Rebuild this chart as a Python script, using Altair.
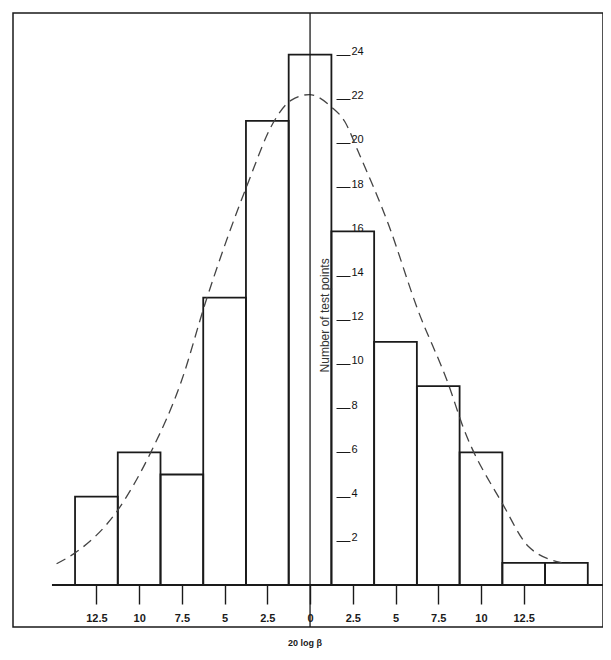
import altair as alt
import pandas as pd

# Histogram bins (bin centres, 20 log beta) and counts
bin_centers = [-12.5, -10, -7.5, -5, -2.5, 0, 2.5, 5, 7.5, 10, 12.5, 15]
counts = [4, 6, 5, 13, 21, 24, 16, 11, 9, 6, 1, 1]
bin_width = 2.5

# Dashed fitted curve
curve_x = [-14.83, -13.79, -11.25, -9.37, -7.51, -6.12, -3.59, -2.18, -1.09, -0.04,
           1.25, 2.03, 2.81, 4.59, 6.30, 8.13, 8.92, 11.28, 12.78, 14.72]
curve_y = [0.96, 1.43, 3.39, 5.92, 9.26, 12.78, 18.27, 20.88, 21.94, 22.19,
           21.63, 20.97, 19.62, 16.31, 12.46, 9.01, 7.22, 3.65, 1.74, 1.01]

x_ticks = [-12.5, -10, -7.5, -5, -2.5, 0, 2.5, 5, 7.5, 10, 12.5]
y_ticks = [2, 4, 6, 8, 10, 12, 14, 16, 18, 20, 22, 24]

x_title = "20 log \u03b2"
y_title = "Number of test points"

W, H = 590, 614
X_DOMAIN = [-17.38, 17.14]
Y_DOMAIN = [-1.90, 25.88]
FONT = "Liberation Sans"
INK = "#1a1a1a"

bars = pd.DataFrame({
    "lo": [c - bin_width / 2 for c in bin_centers],
    "hi": [c + bin_width / 2 for c in bin_centers],
    "n": counts,
})
curve = pd.DataFrame({"x": curve_x, "y": curve_y})

xs = alt.Scale(domain=X_DOMAIN, nice=False, zero=False)
ys = alt.Scale(domain=Y_DOMAIN, nice=False, zero=False)

x_axis = alt.Axis(values=x_ticks, domain=False, grid=False, tickSize=19, tickWidth=1.4,
                  tickColor=INK, labelExpr="'' + abs(datum.value)", labelPadding=8,
                  labelFont=FONT, labelFontSize=11, labelFontWeight="bold",
                  labelColor=INK, offset=-42, title=None, orient="bottom")
y_axis = alt.Axis(values=y_ticks, domain=False, grid=False, orient="right", offset=-267,
                  tickSize=14, tickWidth=1, tickColor=INK, labelPadding=1,
                  labelBaseline="alphabetic", labelFont=FONT, labelFontSize=11,
                  labelColor="#111111", title=None)

base = alt.Chart(bars)

hist = base.mark_rect(fill="white", fillOpacity=0, stroke=INK, strokeWidth=1.8).encode(
    x=alt.X("lo:Q", scale=xs, axis=x_axis),
    x2="hi:Q",
    y=alt.Y("n:Q", scale=ys, axis=y_axis),
    y2=alt.datum(0),
)

line = alt.Chart(curve).mark_line(
    stroke="#444", strokeWidth=1.3, strokeDash=[10, 6], interpolate="monotone"
).encode(
    x=alt.X("x:Q", scale=xs),
    y=alt.Y("y:Q", scale=ys),
)

baseline = alt.Chart(pd.DataFrame({"x": [-15.1]})).mark_rule(
    stroke=INK, strokeWidth=1.8
).encode(
    x=alt.X("x:Q", scale=xs),
    x2=alt.value(W),
    y=alt.Y(datum=0, scale=ys),
)

vaxis = alt.Chart(pd.DataFrame({"x": [0]})).mark_rule(stroke=INK, strokeWidth=1.3).encode(
    x=alt.X("x:Q", scale=xs),
    y=alt.value(0),
    y2=alt.value(H),
)

ytitle = alt.Chart(pd.DataFrame({"x": [0.88], "y": [12.2], "t": [y_title]})).mark_text(
    angle=270, align="center", baseline="middle", font=FONT, fontSize=12, color="#333"
).encode(
    x=alt.X("x:Q", scale=xs),
    y=alt.Y("y:Q", scale=ys),
    text="t:N",
)

xtitle = alt.Chart(pd.DataFrame({"t": [x_title]})).mark_text(
    align="center", baseline="middle", font=FONT, fontSize=9, fontWeight="bold", color=INK
).encode(
    x=alt.value(292),
    y=alt.value(630),
    text="t:N",
)

chart = alt.layer(hist, line, baseline, vaxis, ytitle, xtitle).properties(
    width=W, height=H,
    autosize=alt.AutoSizeParams(type="none"),
    padding={"left": 5, "top": 5, "right": 0, "bottom": 24},
    background="white",
).configure_view(stroke=INK, strokeWidth=1.5)

chart.save("out.html", embed_options={"renderer": "svg", "actions": False})
